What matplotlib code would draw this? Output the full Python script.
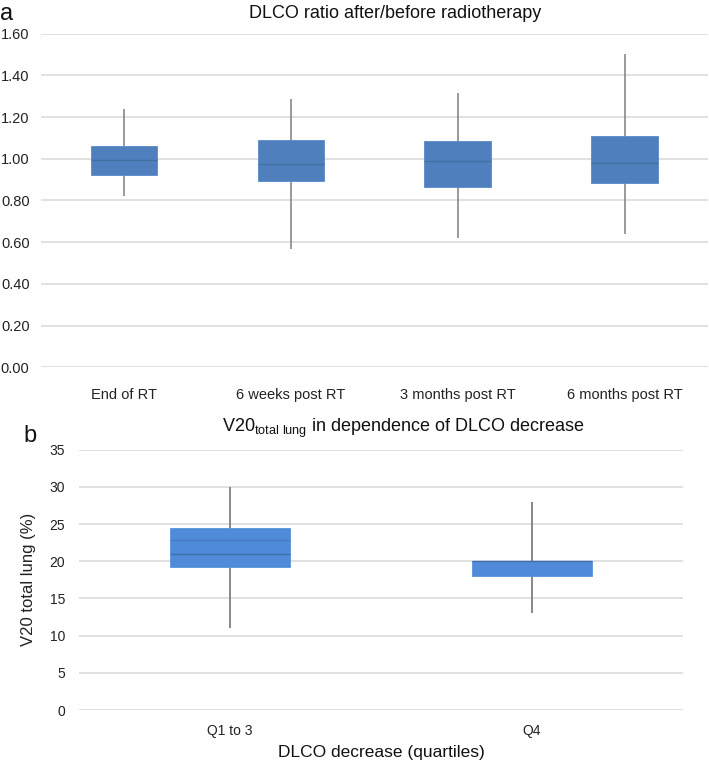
# Box plots of DLCO ratio after/before radiotherapy (a) and V20 total lung
# against DLCO decrease quartiles (b).

import matplotlib
matplotlib.use('Agg')
import matplotlib.pyplot as plt

plt.rcParams['font.family'] = ['Liberation Sans', 'DejaVu Sans']

# panel a data
cats_a   = ['End of RT', '6 weeks post RT', '3 months post RT', '6 months post RT']
wlo_a    = [0.82, 0.565, 0.62, 0.64]
q1_a     = [0.92, 0.893, 0.865, 0.886]
med_a    = [0.994, 0.975, 0.99, 0.979]
q3_a     = [1.059, 1.091, 1.085, 1.11]
whi_a    = [1.237, 1.286, 1.317, 1.505]
yticks_a = [0.0, 0.2, 0.4, 0.6, 0.8, 1.0, 1.2, 1.4, 1.6]

# panel b data
cats_b   = ['Q1 to 3', 'Q4']
wlo_b    = [11.0, 13.0]
q1_b     = [19.25, 18.0]
med_b    = [21.0, 20.0]
mean_b   = [22.9, None]
q3_b     = [24.45, 20.0]
whi_b    = [30.0, 28.0]
yticks_b = [0, 5, 10, 15, 20, 25, 30, 35]

W, H = 709, 765
fig = plt.figure(figsize=(W/100, H/100), dpi=100)

def fx(px): return px / W
def fy(py): return 1 - py / H

grid_col  = '#dedede'
whisk_col = '#7f7f7f'

def style_axes(ax, ticks, fmt, lab_size, tick_pad, x_size, x_pad):
    for s in ax.spines.values():
        s.set_visible(False)
    ax.set_yticks(ticks)
    ax.set_yticklabels([fmt(t) for t in ticks], fontsize=lab_size, color='#222222')
    ax.set_ylim(ticks[0], ticks[-1])
    ax.tick_params(axis='both', length=0)
    ax.tick_params(axis='y', pad=tick_pad)
    ax.tick_params(axis='x', pad=x_pad, labelsize=x_size, labelcolor='#222222')
    ax.grid(axis='y', color=grid_col, linewidth=1.3)
    ax.set_axisbelow(True)

##########
# Panel a
##########
ax_a = fig.add_axes([fx(40.7), fy(367.3), fx(708 - 40.7), (367.3 - 33.7) / H])
xa = list(range(len(cats_a)))
ax_a.vlines(xa, wlo_a, whi_a, color=whisk_col, linewidth=1.1, zorder=2)
ax_a.bar(xa, [t - b for t, b in zip(q3_a, q1_a)], bottom=q1_a, width=0.4,
         color='#4f7fbd', edgecolor='#5a8ac6', linewidth=0.6, zorder=3)
ax_a.hlines(med_a, [x - 0.2 for x in xa], [x + 0.2 for x in xa],
            color='#44709f', linewidth=1.0, zorder=4)
ax_a.set_xlim(-0.5, len(cats_a) - 0.5)
ax_a.set_xticks(xa)
ax_a.set_xticklabels(cats_a)
style_axes(ax_a, yticks_a, lambda t: '%.2f' % t, 10.5, 8, 10.5, 15)

fig.text(fx(395), fy(14), 'DLCO ratio after/before radiotherapy',
         fontsize=13, ha='center', va='center', color='#111111')
fig.text(fx(0), fy(14), 'a', fontsize=17, ha='left', va='center', color='#111111')

##########
# Panel b
##########
ax_b = fig.add_axes([fx(79), fy(710), fx(683 - 79), (710 - 449.7) / H])
xb = list(range(len(cats_b)))
ax_b.vlines(xb, wlo_b, whi_b, color=whisk_col, linewidth=1.3, zorder=2)
ax_b.bar(xb, [t - b for t, b in zip(q3_b, q1_b)], bottom=q1_b, width=0.4,
         color='#4f8bd8', edgecolor='#5a93da', linewidth=0.6, zorder=3)
ax_b.hlines(med_b, [x - 0.2 for x in xb], [x + 0.2 for x in xb],
            color='#3f6fae', linewidth=1.0, zorder=4)
for x, m in zip(xb, mean_b):
    if m is not None:
        ax_b.hlines(m, x - 0.2, x + 0.2, color='#4679bf', linewidth=0.9, zorder=4)
ax_b.set_xlim(-0.5, len(cats_b) - 0.5)
ax_b.set_xticks(xb)
ax_b.set_xticklabels(cats_b)
style_axes(ax_b, yticks_b, lambda t: '%d' % t, 10, 10, 10, 10)
ax_b.set_xlabel('DLCO decrease (quartiles)', fontsize=12.5, color='#111111', labelpad=5)
ax_b.set_ylabel('V20 total lung (%)', fontsize=12, color='#222222', labelpad=10)

fig.text(fx(222), fy(428),
         r'V20$_\mathregular{total\ lung}$ in dependence of DLCO decrease',
         fontsize=13, ha='left', va='center', color='#111111')
fig.text(fx(23), fy(436), 'b', fontsize=17, ha='left', va='center', color='#111111')

fig.savefig('out.png', dpi=100)
